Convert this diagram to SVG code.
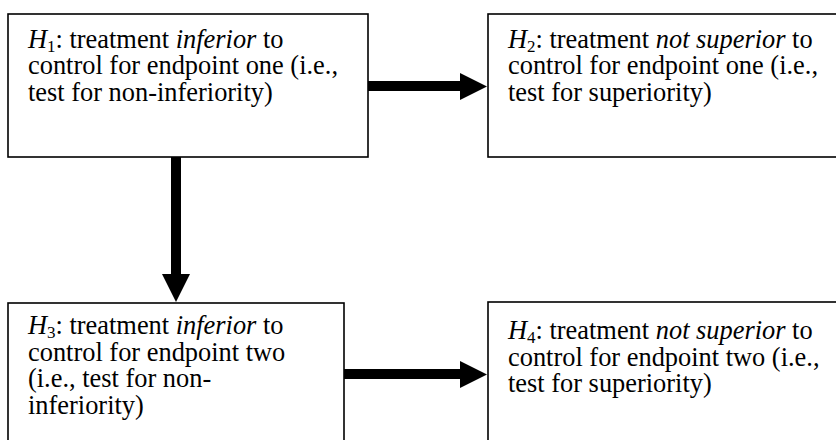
<svg xmlns="http://www.w3.org/2000/svg" width="836" height="440" viewBox="0 0 836 440">
<style>
.box{fill:#fff;stroke:#000;stroke-width:1.6}
.t{font-family:"Liberation Serif","Times New Roman",Tinos,serif;font-size:26.4px;fill:#000}
.i{font-style:italic}
.sub{font-size:17px}
.shaft{stroke:#000;stroke-width:10;fill:none}
.head{fill:#000}
</style>
<rect width="836" height="440" fill="#fff"/>
<g id="node-h1">
<rect class="box" x="8" y="14" width="360" height="143"/>
<text class="t" x="28" y="47.5"><tspan class="i">H</tspan><tspan class="sub" dy="4">1</tspan><tspan dy="-4">: treatment </tspan><tspan class="i">inferior</tspan> to</text>
<text class="t" x="28" y="74">control for endpoint one (i.e.,</text>
<text class="t" x="28" y="100.5">test for non-inferiority)</text>
</g>
<g id="node-h2">
<rect class="box" x="488" y="14" width="360" height="143"/>
<text class="t" x="508" y="47.5"><tspan class="i">H</tspan><tspan class="sub" dy="4">2</tspan><tspan dy="-4">: treatment </tspan><tspan class="i">not superior</tspan> to</text>
<text class="t" x="508" y="74">control for endpoint one (i.e.,</text>
<text class="t" x="508" y="100.5">test for superiority)</text>
</g>
<g id="node-h3">
<rect class="box" x="8" y="303" width="336" height="160"/>
<text class="t" x="28" y="334"><tspan class="i">H</tspan><tspan class="sub" dy="4">3</tspan><tspan dy="-4">: treatment </tspan><tspan class="i">inferior</tspan> to</text>
<text class="t" x="28" y="360.5">control for endpoint two</text>
<text class="t" x="28" y="387">(i.e., test for non-</text>
<text class="t" x="28" y="413.5">inferiority)</text>
</g>
<g id="node-h4">
<rect class="box" x="488" y="302" width="360" height="160"/>
<text class="t" x="508" y="339"><tspan class="i">H</tspan><tspan class="sub" dy="4">4</tspan><tspan dy="-4">: treatment </tspan><tspan class="i">not superior</tspan> to</text>
<text class="t" x="508" y="365.5">control for endpoint two (i.e.,</text>
<text class="t" x="508" y="392">test for superiority)</text>
</g>
<g id="connectors">
<line class="shaft" x1="368" y1="86" x2="461" y2="86"/>
<polygon class="head" points="460,73 487,86.5 460,100"/>
<line class="shaft" x1="176" y1="157" x2="176" y2="275"/>
<polygon class="head" points="162,274 190,274 176,302"/>
<line class="shaft" x1="344" y1="374" x2="461" y2="374"/>
<polygon class="head" points="460,361 487,374.5 460,388"/>
</g>
</svg>
